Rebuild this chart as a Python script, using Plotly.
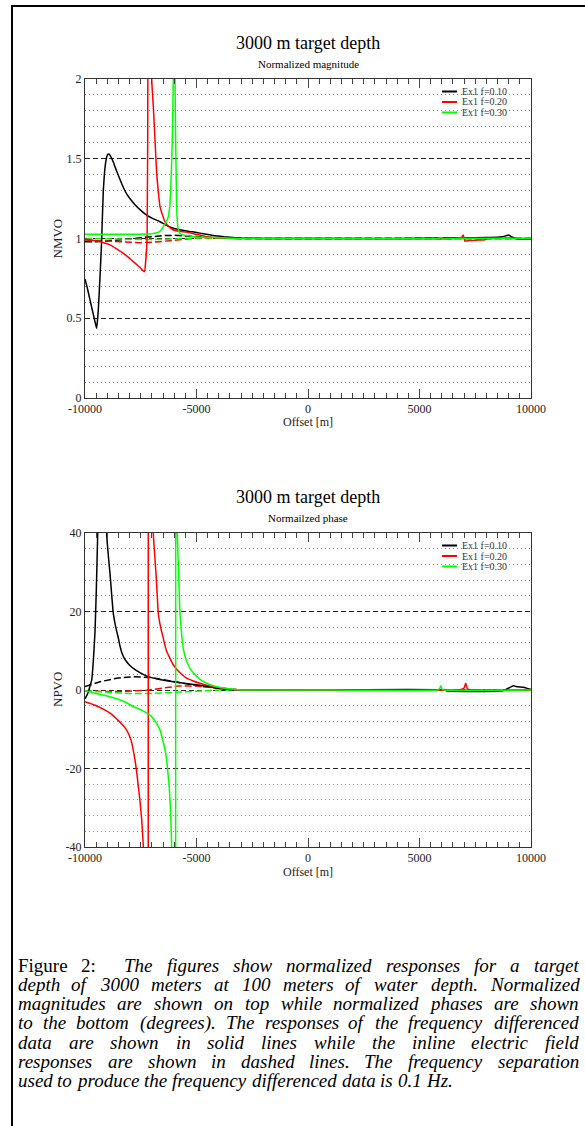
import plotly.graph_objects as go

W, H = 585, 1126

# ---------------- data: normalized magnitude (top) ----------------
mag_f010_x = [-10000, -9880, -9776, -9660, -9552, -9500, -9475, -9404, -9327, -9256, -9179, -9120, -9058,
              -8990, -8924, -8850, -8731, -8600, -8430, -8280, -8132, -7900, -7684, -7450, -7235, -6950,
              -6637, -6350, -6040, -5750, -5500, -5250, -5000, -4750, -4500, -4250, -4000, -3750, -3500,
              -3250, -3000, -2000, 0, 4000, 6300, 7000, 8000, 8600, 8830, 8982, 9150, 9400, 10000]
mag_f010_y = [0.746, 0.68, 0.615, 0.545, 0.478, 0.45, 0.437, 0.552, 0.76, 0.98, 1.30, 1.42, 1.49,
              1.525, 1.53, 1.515, 1.48, 1.43, 1.37, 1.32, 1.28, 1.235, 1.20, 1.17, 1.147, 1.125,
              1.105, 1.083, 1.064, 1.055, 1.048, 1.043, 1.038, 1.031, 1.025, 1.019, 1.015, 1.011, 1.008,
              1.005, 1.003, 1.0, 1.0, 1.0, 1.003, 1.005, 1.006, 1.01, 1.015, 1.022, 1.01, 0.997, 0.997]

mag_f020_x = [-10000, -9500, -9200, -8880, -8600, -8281, -8050, -7834, -7600, -7450, -7340, -7215, -7180,
              -7100, -7010, -6937, -6861, -6786, -6710, -6637, -6520, -6413, -6250, -6040, -5750, -5444,
              -5000, -4546, -3900, -3000, 0, 6600, 6900, 6965, 7030, 7085, 7265, 7600, 7937, 8050, 10000]
mag_f020_y = [0.997, 0.985, 0.975, 0.96, 0.937, 0.907, 0.882, 0.855, 0.826, 0.806, 0.792, 1.0, 2.2,
              4.0, 2.0, 1.83, 1.62, 1.41, 1.29, 1.2, 1.145, 1.105, 1.075, 1.053, 1.045, 1.04,
              1.025, 1.011, 1.003, 1.0, 1.0, 1.0, 1.008, 1.022, 0.984, 0.984, 0.988, 0.99, 0.992, 1.0, 1.0]

mag_f030_x = [-10000, -9000, -8000, -7000, -6700, -6600, -6488, -6370, -6264, -6200, -6160, -6120, -6085,
              -6040, -6000, -5964, -5934, -5910, -5892, -5860, -5817, -5750, -5665, -5300, -5000, -4000,
              -3000, 0, 5850, 5950, 6050, 6150, 6250, 10000]
mag_f030_y = [1.026, 1.026, 1.027, 1.03, 1.04, 1.05, 1.074, 1.10, 1.137, 1.2, 1.30, 1.45, 1.62,
              2.0, 3.0, 2.0, 1.62, 1.38, 1.2, 1.11, 1.053, 1.035, 1.026, 1.015, 1.01, 1.005,
              1.0, 1.0, 1.0, 1.006, 0.997, 0.997, 1.0, 1.0]

mag_ex010_x = [-10000, -9500, -9000, -8500, -8000, -7500, -7000, -6500, -6000, -5500, -5000, -4500, -4000, -3000, 10000]
mag_ex010_y = [0.98, 0.98, 0.985, 0.99, 0.997, 1.005, 1.012, 1.018, 1.02, 1.018, 1.012, 1.007, 1.003, 1.0, 1.0]
mag_ex020_x = [-10000, -9000, -8000, -7500, -7000, -6500, -6000, -5500, -5000, -4000, -3000, 10000]
mag_ex020_y = [0.99, 0.983, 0.976, 0.974, 0.976, 0.982, 0.99, 0.997, 1.002, 1.002, 1.0, 1.0]
mag_ex030_x = [-10000, -9000, -8000, -7000, -6000, -5000, -4000, -3000, 10000]
mag_ex030_y = [1.0, 0.997, 0.994, 0.993, 0.997, 1.003, 1.003, 1.0, 1.0]

# ---------------- data: normalized phase (bottom) ----------------
ph_f010_x = [-10000, -9930, -9850, -9776, -9700, -9620, -9550, -9490, -9430, -9380, -9300, -9150, -9080,
             -9031, -8950, -8879, -8800, -8731, -8655, -8580, -8507, -8430, -8356, -8250, -8132, -8000,
             -7834, -7500, -7160, -6600, -6040, -5400, -4843, -4400, -4094, -3700, -3300, -3000,
             0, 6200, 6215, 8640, 8834, 9000, 9206, 9400, 9655, 9955, 10000]
ph_f010_y = [-2.2, -1.5, -0.5, 1.0, 2.5, 8.0, 15.0, 26.0, 40.0, 55.0, 90.0, 90.0, 60.0,
             40.0, 34.0, 29.7, 24.0, 19.5, 17.0, 15.0, 13.3, 11.2, 9.6, 8.2, 7.2, 6.3,
             5.5, 4.3, 3.4, 2.6, 2.1, 1.6, 1.2, 0.8, 0.5, 0.2, 0.05, 0.0,
             0.0, 0.0, -0.25, -0.25, 0.0, 0.5, 1.1, 0.8, 0.7, 0.2, 0.2]

ph_f020_x = [-10000, -9500, -9200, -8879, -8500, -8300, -8132, -8000, -7900, -7830, -7758, -7680, -7608,
             -7530, -7458, -7383, -7300, -7200, -7165, -7155, -7050, -6937, -6870, -6816, -6760, -6713,
             -6637, -6560, -6489, -6420, -6338, -6200, -6050, -5892, -5700, -5444, -5150, -4843, -4550,
             -4247, -3900, -3500, -3000, 0, 6600, 6900, 7000, 7072, 7150, 7300, 10000]
ph_f020_y = [-3.0, -4.0, -4.8, -5.9, -7.8, -9.0, -10.2, -11.8, -13.5, -15.5, -17.8, -21.0, -24.6,
             -28.5, -33.0, -40.0, -55.0, -100.0, -300.0, 300.0, 100.0, 40.0, 34.0, 29.7, 24.0, 19.5,
             16.8, 14.8, 13.2, 11.5, 9.9, 8.2, 6.5, 5.3, 4.2, 3.0, 2.3, 1.7, 1.2,
             0.85, 0.5, 0.2, 0.0, 0.0, 0.0, 0.2, 0.5, 1.7, 0.3, 0.0, 0.0]

ph_f030_x = [-10000, -9500, -8879, -8300, -7834, -7400, -7085, -6950, -6850, -6740, -6637, -6560, -6480,
             -6400, -6338, -6290, -6250, -6215, -6188, -6150, -6113, -6050, -5945, -5930, -5900, -5860,
             -5830, -5800, -5770, -5740, -5700, -5665, -5590, -5450, -5291, -5050, -4843, -4500, -4094,
             -3700, -3350, -3000, 0, 5800, 5900, 5950, 6000, 6100, 10000]
ph_f030_y = [-0.2, -0.9, -1.7, -2.8, -4.2, -5.3, -6.4, -7.2, -8.0, -9.0, -10.2, -11.7, -13.5,
             -15.5, -17.8, -20.5, -23.0, -25.5, -28.0, -33.0, -40.0, -70.0, -300.0, 300.0, 100.0, 40.0,
             34.0, 29.7, 24.0, 19.5, 16.5, 14.0, 10.5, 7.5, 5.5, 3.8, 2.7, 1.6, 0.85,
             0.45, 0.2, 0.0, 0.0, 0.0, 0.3, 1.1, 0.3, 0.0, 0.0]

ph_ex010_x = [-10000, -9327, -8580, -7834, -7085, -6338, -5590, -4843, -4094, -3350, -3000, 10000]
ph_ex010_y = [0.85, 2.1, 3.0, 3.4, 3.2, 2.5, 1.7, 1.0, 0.5, 0.1, 0.0, 0.0]
ph_ex020_x = [-10000, -8500, -7300, -6500, -5800, -5000, -4300, -3500, -3000, 10000]
ph_ex020_y = [-0.3, -0.4, -0.1, 0.5, 1.0, 1.0, 0.6, 0.2, 0.0, 0.0]
ph_ex030_x = [-10000, -9000, -8000, -7000, -6000, -5000, -4000, 10000]
ph_ex030_y = [-0.2, -0.6, -0.9, -0.9, -0.6, -0.2, 0.0, 0.0]

legend_labels = ["Ex1 f=0.10", "Ex1 f=0.20", "Ex1 f=0.30"]
series_colors = ["#000000", "#ff0000", "#00ff00"]

x_ticks = [-10000, -5000, 0, 5000, 10000]
x_ticktext = ["-10000", "-5000", "0", "5000", "10000"]
mag_ticks = [0, 0.5, 1, 1.5, 2]
mag_ticktext = ["0", "0.5", "1", "1.5", "2"]
ph_ticks = [-40, -20, 0, 20, 40]
ph_ticktext = ["-40", "-20", "0", "20", "40"]

caption_lines = [
    "Figure 2:  The figures show normalized responses for a target",
    "depth of 3000 meters at 100 meters of water depth. Normalized",
    "magnitudes are shown on top while normalized phases are shown",
    "to the bottom (degrees). The responses of the frequency differenced",
    "data are shown in solid lines while the inline electric field",
    "responses are shown in dashed lines. The frequency separation",
    "used to produce the frequency differenced data is 0.1 Hz.",
]

# ---------------- helpers ----------------
SERIF = "Liberation Serif"


def px(v):
    return v / W


def py(v):
    return 1 - v / H


fig = go.Figure()

dashed_sets = [
    [(mag_ex010_x, mag_ex010_y), (mag_ex020_x, mag_ex020_y), (mag_ex030_x, mag_ex030_y)],
    [(ph_ex010_x, ph_ex010_y), (ph_ex020_x, ph_ex020_y), (ph_ex030_x, ph_ex030_y)],
]
solid_sets = [
    [(mag_f010_x, mag_f010_y), (mag_f020_x, mag_f020_y), (mag_f030_x, mag_f030_y)],
    [(ph_f010_x, ph_f010_y), (ph_f020_x, ph_f020_y), (ph_f030_x, ph_f030_y)],
]
axes = [("x", "y"), ("x2", "y2")]

for k, (xa, ya) in enumerate(axes):
    for (xs, ys), c, name in zip(dashed_sets[k], series_colors, legend_labels):
        fig.add_trace(go.Scatter(x=xs, y=ys, mode="lines", xaxis=xa, yaxis=ya, showlegend=False,
                                 line=dict(color=c, width=1.5, dash="7px,3px"), name=name))
    for (xs, ys), c, name in zip(solid_sets[k], series_colors, legend_labels):
        fig.add_trace(go.Scatter(x=xs, y=ys, mode="lines", xaxis=xa, yaxis=ya, showlegend=False,
                                 line=dict(color=c, width=1.5, shape="spline", smoothing=0.4), name=name))

plot_left, plot_right = 85, 531
top_box = (79, 398)
bot_box = (533, 847)

xdom = [px(plot_left), px(plot_right)]
tickfont = dict(family=SERIF, size=12, color="#222")


def xaxis_cfg(anchor):
    return dict(domain=xdom, anchor=anchor, range=[-10000, 10000], tickmode="array", tickvals=x_ticks,
                ticktext=x_ticktext, ticks="inside", ticklen=9, tickcolor="#444", tickwidth=1,
                minor=dict(tickmode="linear", tick0=0, dtick=500, ticks="inside", ticklen=5,
                           tickcolor="#444", tickwidth=1, showgrid=False),
                showgrid=False, zeroline=False, showline=True, linecolor="#333", linewidth=1,
                mirror="ticks", tickfont=tickfont, automargin=False)


def yaxis_cfg(anchor, box, rng, tv, tt, minor_dt):
    return dict(domain=[py(box[1]), py(box[0])], anchor=anchor, range=rng, tickmode="array",
                tickvals=tv, ticktext=tt, ticks="", showgrid=True, gridcolor="#222", gridwidth=1,
                griddash="5px,3px",
                minor=dict(tickmode="linear", tick0=0, dtick=minor_dt, showgrid=True, gridcolor="#888",
                           gridwidth=1, griddash="1px,3px", ticks=""),
                zeroline=False, showline=True, linecolor="#333", linewidth=1, mirror=True,
                tickfont=tickfont, automargin=False)


fig.update_layout(
    width=W, height=H, autosize=False,
    margin=dict(l=0, r=0, t=0, b=0, pad=0, autoexpand=False),
    paper_bgcolor="white", plot_bgcolor="white",
    showlegend=False,
    xaxis=xaxis_cfg("y"),
    yaxis=yaxis_cfg("x", top_box, [0, 2], mag_ticks, mag_ticktext, 0.1),
    xaxis2=xaxis_cfg("y2"),
    yaxis2=yaxis_cfg("x2", bot_box, [-40, 40], ph_ticks, ph_ticktext, 4),
)

annotations = []
shapes = []

# titles, subtitles, axis titles, legends
for box, sub, ylab in [(top_box, "Normalized magnitude", "NMVO"), (bot_box, "Normailzed phase", "NPVO")]:
    cx = (plot_left + plot_right) / 2
    annotations.append(dict(text="3000 m target depth", x=px(cx), y=py(box[0] - 36), xref="paper", yref="paper",
                            xanchor="center", yanchor="middle", showarrow=False,
                            font=dict(family=SERIF, size=18, color="black")))
    annotations.append(dict(text=sub, x=px(cx), y=py(box[0] - 15), xref="paper", yref="paper",
                            xanchor="center", yanchor="middle", showarrow=False,
                            font=dict(family=SERIF, size=11, color="black")))
    annotations.append(dict(text="Offset [m]", x=px(cx), y=py(box[1] + 24.5), xref="paper", yref="paper",
                            xanchor="center", yanchor="middle", showarrow=False,
                            font=dict(family=SERIF, size=12, color="#222")))
    annotations.append(dict(text=ylab, x=px(57), y=py((box[0] + box[1]) / 2), xref="paper", yref="paper",
                            xanchor="center", yanchor="middle", showarrow=False, textangle=-90,
                            font=dict(family=SERIF, size=13, color="#222")))
    for i, (lab, c) in enumerate(zip(legend_labels, series_colors)):
        ly = box[0] + 12.5 + i * 10.5
        shapes.append(dict(type="line", xref="paper", yref="paper", x0=px(442), x1=px(457),
                           y0=py(ly), y1=py(ly), line=dict(color=c, width=2)))
        annotations.append(dict(text=lab, x=px(460), y=py(ly), xref="paper", yref="paper",
                                xanchor="left", yanchor="middle", showarrow=False,
                                font=dict(family=SERIF, size=10, color="#333")))

# page frame (left and top rule)
shapes.append(dict(type="line", xref="paper", yref="paper", x0=px(12), x1=px(12), y0=py(5), y1=py(H),
                   line=dict(color="black", width=2)))
shapes.append(dict(type="line", xref="paper", yref="paper", x0=px(11), x1=px(W), y0=py(6), y1=py(6),
                   line=dict(color="black", width=2)))

# ---------------- justified caption ----------------
RM = dict(zip("abcdefghijklmnopqrstuvwxyz",
              [444, 500, 444, 500, 444, 333, 500, 500, 278, 278, 500, 278, 778, 500, 500, 500, 500, 333,
               389, 278, 500, 500, 722, 500, 500, 444]))
RM.update({"F": 556, ":": 278, ".": 250, "2": 500})
IT = dict(zip("abcdefghijklmnopqrstuvwxyz",
              [500, 500, 444, 500, 444, 278, 500, 500, 278, 278, 444, 278, 722, 500, 500, 500, 500, 389,
               389, 278, 500, 444, 667, 444, 444, 389]))
IT.update({"T": 556, "N": 667, "H": 722, "(": 333, ")": 333, ".": 250, ",": 250, ":": 333})
for d in "0123456789":
    IT[d] = 500

FS = 19
SP = 250 * FS / 1000
cap_left, cap_right = 18, 579
cap_y0, cap_dy = 965, 19.3


def width(word, table):
    return sum(table.get(ch, 500) for ch in word) * FS / 1000


for li, line in enumerate(caption_lines):
    words = line.split(" ")
    regular = set([0, 1]) if li == 0 else set()
    widths = [width(w, RM if i in regular else IT) for i, w in enumerate(words)]
    ngap = len(words) - 1
    if li < len(caption_lines) - 1:
        gap = (cap_right - cap_left - sum(widths)) / ngap
    else:
        gap = SP
    xcur = cap_left
    yc = cap_y0 + li * cap_dy
    for i, (w, ww) in enumerate(zip(words, widths)):
        if w:
            txt = w if i in regular else "<i>" + w + "</i>"
            annotations.append(dict(text=txt, x=px(xcur + ww / 2), y=py(yc), xref="paper", yref="paper",
                                    xanchor="center", yanchor="middle", showarrow=False,
                                    borderpad=0, font=dict(family=SERIF, size=FS, color="black")))
        xcur += ww + gap

fig.update_layout(annotations=annotations, shapes=shapes)

fig.write_html("out.html", config={"responsive": False, "displayModeBar": False},
               post_script="document.body.style.margin='0px';document.body.style.overflow='hidden';")
